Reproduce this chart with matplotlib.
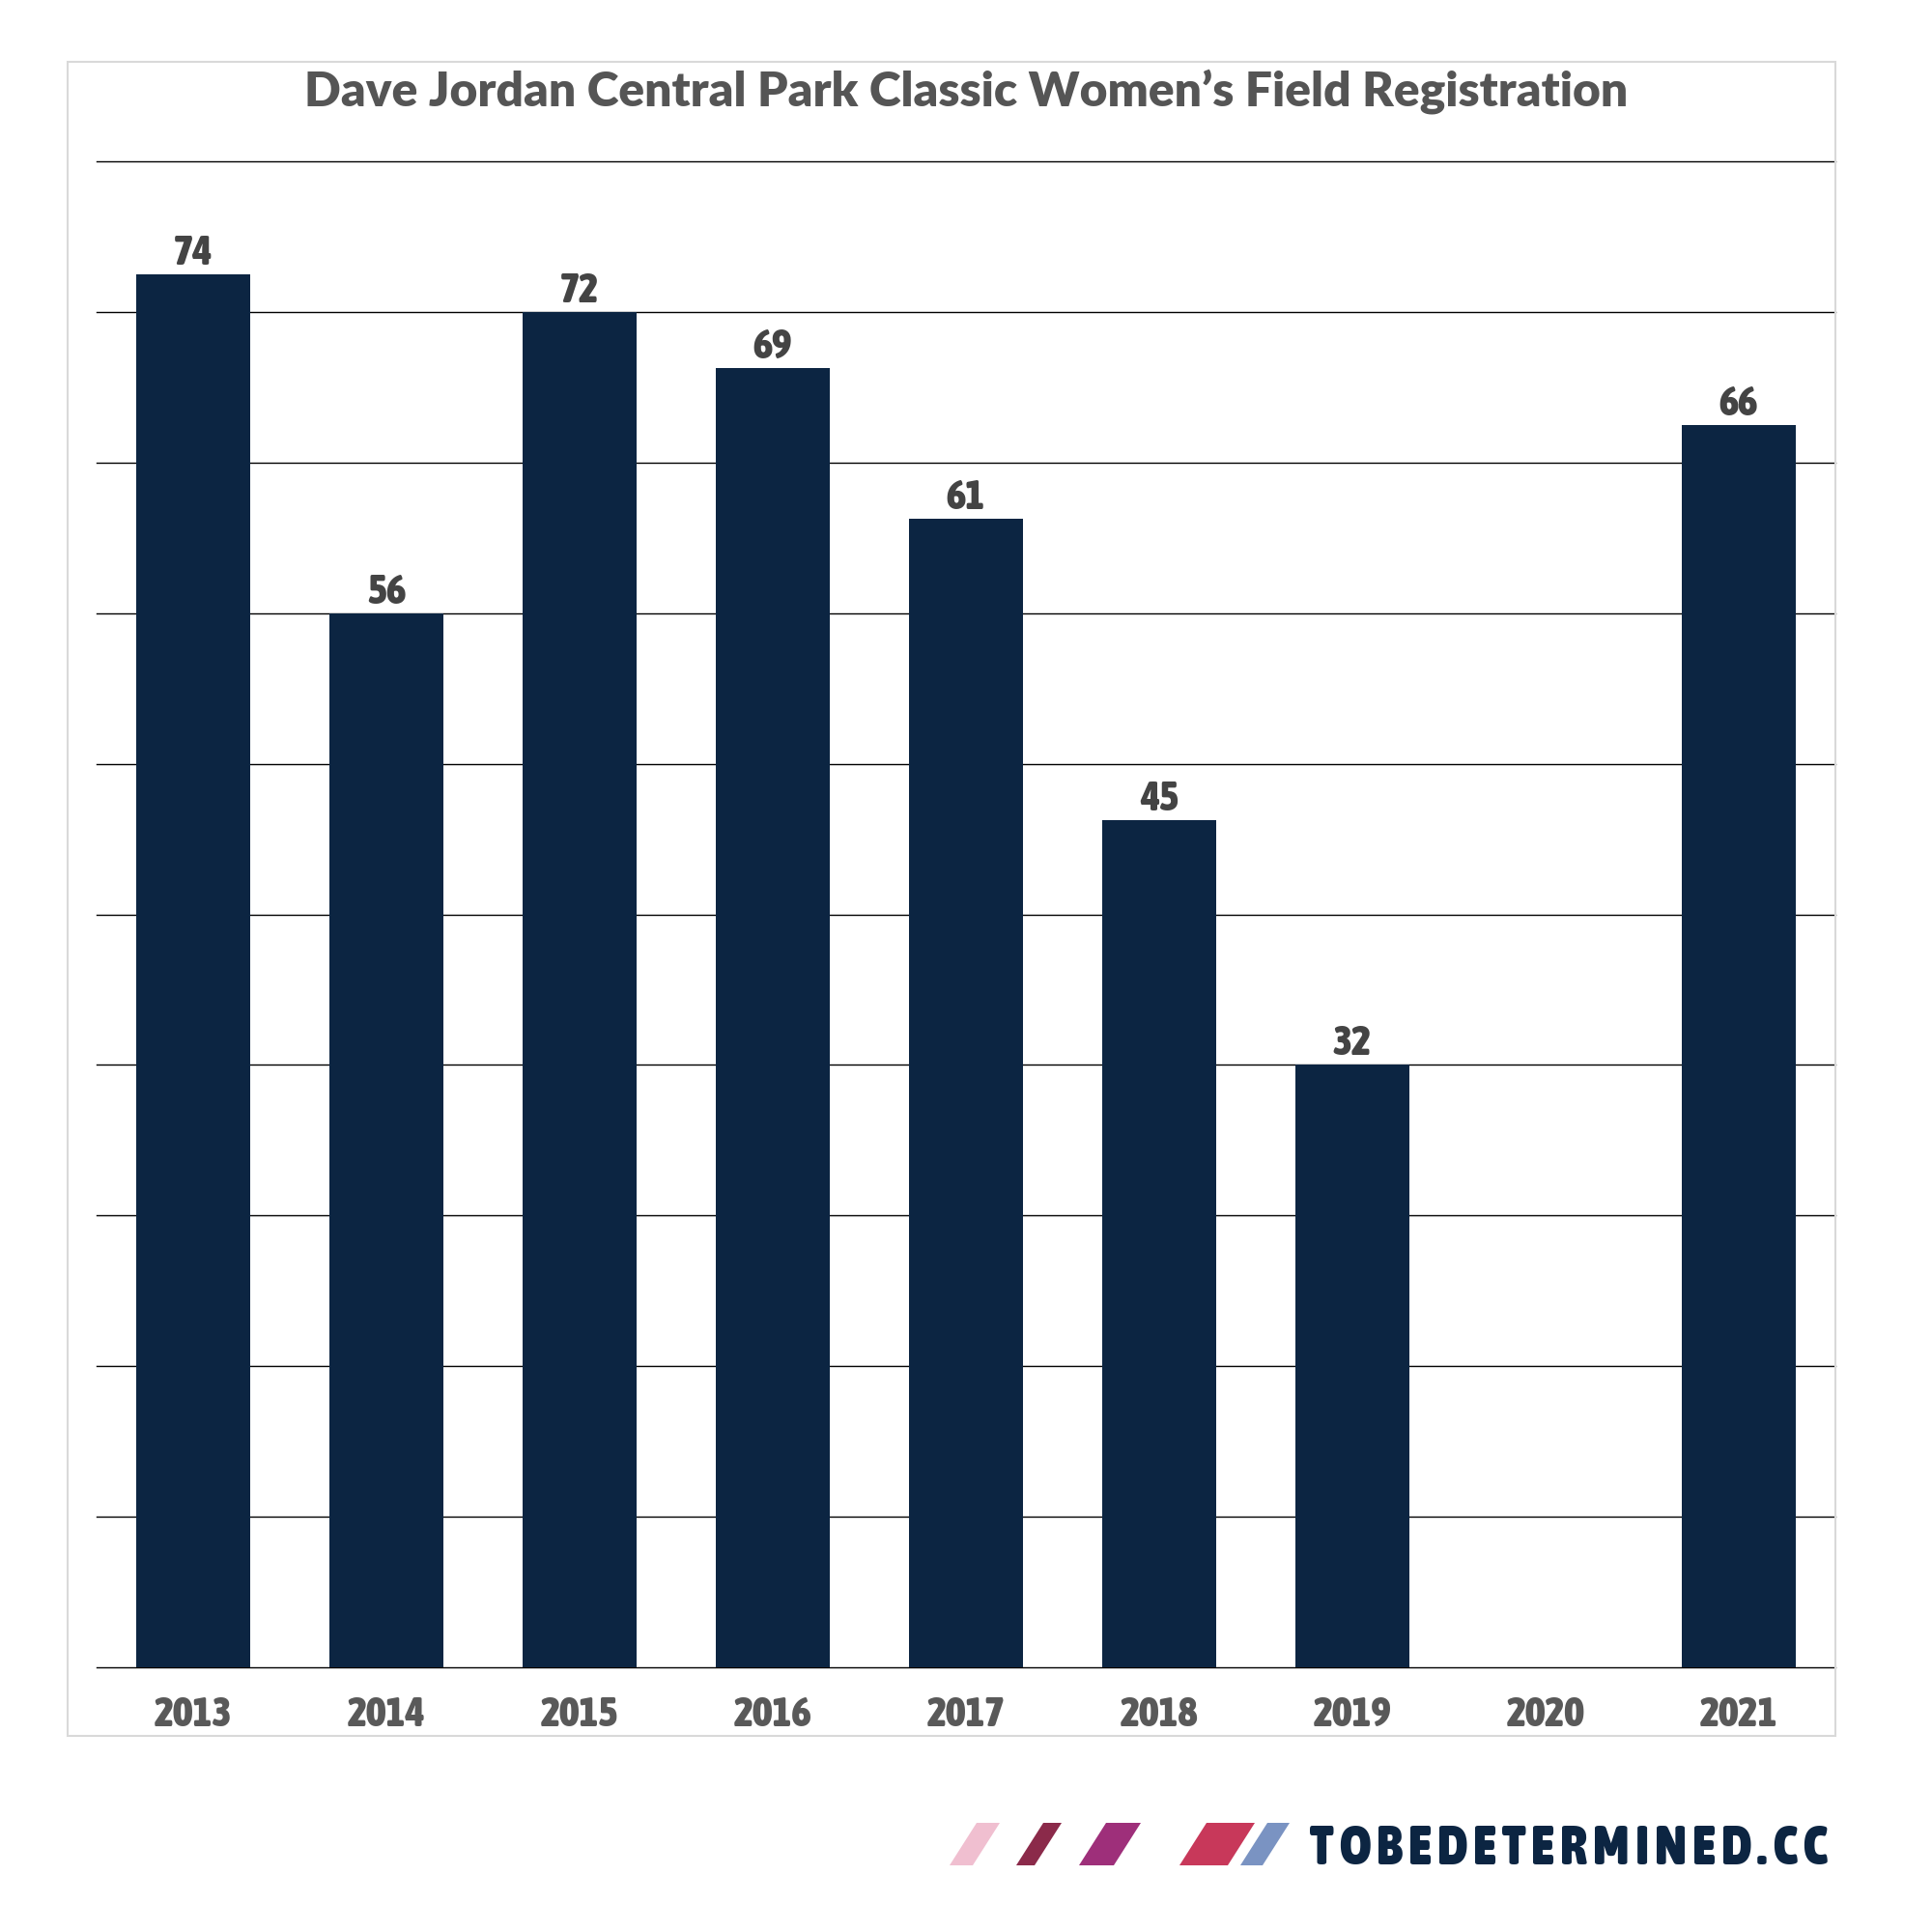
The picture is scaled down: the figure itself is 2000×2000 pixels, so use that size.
import matplotlib
matplotlib.use("Agg")
import matplotlib.pyplot as plt
from matplotlib import font_manager as fm
from matplotlib.patches import Rectangle, Polygon
import numpy as np

# -----------------------------------------------------------
# data
# -----------------------------------------------------------
years = ["2013", "2014", "2015", "2016", "2017", "2018", "2019", "2020", "2021"]
registrations = [74, 56, 72, 69, 61, 45, 32, None, 66]   # no race in 2020
title = "Dave Jordan Central Park Classic Women\u2019s Field Registration"
brand = "TOBEDETERMINED.CC"

# -----------------------------------------------------------
# fonts: look for any bold condensed face, else Roboto bold
# -----------------------------------------------------------
def _is_condensed(f):
    st = f.stretch
    if isinstance(st, str):
        cond = "condensed" in st or "narrow" in st
    else:
        cond = st < 500
    return cond or "Condensed" in f.name or "Narrow" in f.name

def _weight(f):
    w = f.weight
    if isinstance(w, str):
        return {"bold": 700, "heavy": 800, "black": 900, "semibold": 600,
                "demibold": 600, "extra bold": 800}.get(w, 400)
    return w

cands = [f for f in fm.fontManager.ttflist if _is_condensed(f) and _weight(f) >= 600]
cands.sort(key=lambda f: -_weight(f))

def narrow_props(size):
    if cands:
        return fm.FontProperties(fname=cands[0].fname, size=size)
    return fm.FontProperties(family=["Roboto", "DejaVu Sans"], weight="bold", size=size)

# heaviest non-condensed face from a short list, for the Futura-like title
title_file = None
for fam in ["Lato", "Inter", "Noto Sans", "Open Sans", "Roboto"]:
    faces = [f for f in fm.fontManager.ttflist
             if f.name == fam and _weight(f) >= 800 and not _is_condensed(f)
             and f.style == "normal"]
    if faces:
        faces.sort(key=lambda f: _weight(f))
        title_file = faces[0].fname
        break

def title_props(size):
    if title_file:
        return fm.FontProperties(fname=title_file, size=size)
    return fm.FontProperties(family=["Lato", "DejaVu Sans"], weight="bold", size=size)

# -----------------------------------------------------------
# style
# -----------------------------------------------------------
bar_color = "#0c2542"
label_color = "#444444"
year_color = "#595959"
title_color = "#555555"
W = H = 2000
cap_ratio = 0.70

def size_for_cap(px):
    return px / cap_ratio * 72 / 100

fig = plt.figure(figsize=(20, 20), dpi=100)
fig.patch.set_facecolor("white")
renderer = fig.canvas.get_renderer()

# light frame around the chart area
fig.patches.append(Rectangle((70 / W, 1 - 1797 / H), 1830 / W, (1797 - 64) / H,
                             transform=fig.transFigure, fill=False,
                             edgecolor="#d9d9d9", linewidth=1.5, zorder=0))

ax = fig.add_axes([100 / W, 1 - 1726 / H, 1800 / W, (1726 - 167) / H])
x = np.arange(len(years))
idx = [i for i, v in enumerate(registrations) if v is not None]
vals = [registrations[i] for i in idx]
ax.bar(idx, vals, width=0.59, color=bar_color, zorder=2)

lab_size = size_for_cap(30)
for i, v in zip(idx, vals):
    ax.annotate(str(v), (i, v), xytext=(0, 7.2), textcoords="offset points",
                ha="center", va="baseline", color=label_color,
                fontproperties=narrow_props(lab_size))

ax.set_xlim(-0.5, len(years) - 0.5)
ax.set_ylim(0, 80)
ax.set_yticks(np.arange(0, 81, 8))
ax.set_yticklabels([])
ax.yaxis.grid(True, color="#000000", linewidth=1.0)
ax.set_axisbelow(True)
for gl in ax.get_ygridlines():
    gl.set_clip_on(False)
ax.tick_params(axis="y", length=0)
ax.set_xticks(x)
ax.set_xticklabels(years, color=year_color, fontproperties=narrow_props(lab_size))
ax.tick_params(axis="x", length=0, pad=20)
for s in ax.spines.values():
    s.set_visible(False)

# title, scaled to the width it takes in the reference
t = fig.text(0.5, 1 - 109 / H, title, ha="center", va="baseline",
             color=title_color, fontproperties=title_props(34))
tw = t.get_window_extent(renderer).width
t.set_fontsize(34 * 1372 / tw)

# brand mark: slanted stripes + tracked lettering
stripes = [  # (bottom-left x, bottom width, colour)
    (983, 24, "#f0bfd0"),
    (1052, 19, "#8b2a4a"),
    (1117, 36, "#9e2f7a"),
    (1221, 50, "#c8385a"),
    (1284, 23, "#7a93c2"),
]
y0, y1, slant = 1 - 1931 / H, 1 - 1887 / H, 28
for bx, bw, c in stripes:
    pts = [(bx / W, y0), ((bx + bw) / W, y0),
           ((bx + bw + slant) / W, y1), ((bx + slant) / W, y1)]
    fig.patches.append(Polygon(pts, closed=True, transform=fig.transFigure,
                               facecolor=c, edgecolor="none"))

brand_size = size_for_cap(46)
chars = [fig.text(0, 1 - 1930 / H, ch, color=bar_color, ha="left", va="baseline",
                  fontproperties=narrow_props(brand_size)) for ch in brand]
widths = [c.get_window_extent(renderer).width for c in chars]
min_gap = 6
span = 535
if sum(widths) + min_gap * (len(chars) - 1) > span:
    k = (span - min_gap * (len(chars) - 1)) / sum(widths)
    for c in chars:
        c.set_fontsize(brand_size * k)
    widths = [w * k for w in widths]
gap = (span - sum(widths)) / (len(chars) - 1)
xpos = 1356
for c, w in zip(chars, widths):
    c.set_x(xpos / W)
    xpos += w + gap

fig.savefig("out.png", dpi=100, facecolor="white")
